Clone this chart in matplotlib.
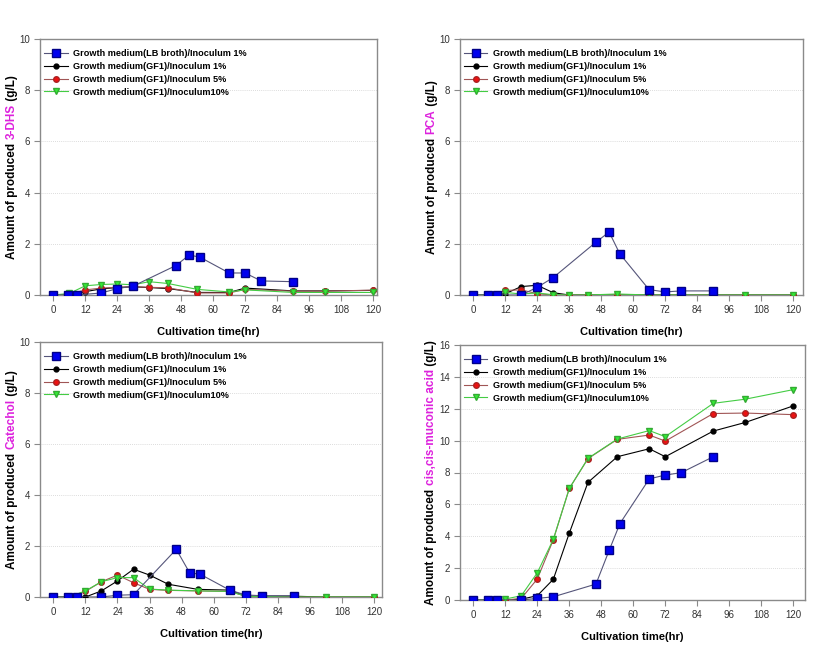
import matplotlib
matplotlib.use('Agg')
import matplotlib.pyplot as plt

plt.rcParams['font.family'] = ['Liberation Sans', 'DejaVu Sans']

# sampling times (hr)
t_lb = [0, 5.5, 9, 18, 24, 30, 46, 51, 55, 66, 72, 78, 90]
t_gf = [0, 6, 12, 18, 24, 30, 36, 43, 54, 66, 72, 90, 102, 120]

series_names = ['Growth medium(LB broth)/Inoculum 1%',
                'Growth medium(GF1)/Inoculum 1%',
                'Growth medium(GF1)/Inoculum 5%',
                'Growth medium(GF1)/Inoculum10%']

# 3-DHS
dhs_lb = [0, 0, 0, 0.08, 0.25, 0.35, 1.15, 1.56, 1.48, 0.86, 0.86, 0.55, 0.52]
dhs_gf1 = [0, 0.02, 0.13, 0.24, 0.29, 0.32, 0.29, 0.25, 0.1, 0.1, 0.27, 0.16, 0.16, 0.18]
dhs_gf5 = [0, 0.02, 0.2, 0.27, 0.3, 0.33, 0.3, 0.28, 0.08, 0.08, 0.22, 0.15, 0.15, 0.19]
dhs_gf10 = [0, 0.06, 0.36, 0.41, 0.43, 0.4, 0.52, 0.45, 0.22, 0.12, 0.2, 0.1, 0.1, 0.1]

# PCA
pca_lb = [0, 0, 0, 0, 0.3, 0.68, 2.06, 2.46, 1.61, 0.21, 0.12, 0.16, 0.16]
pca_gf1 = [0, 0, 0.05, 0.33, 0.38, 0.09, 0, 0, 0, 0, 0, 0, 0, 0]
pca_gf5 = [0, 0, 0.18, 0.2, 0.05, 0, 0, 0, 0, 0, 0, 0, 0, 0]
pca_gf10 = [0, 0, 0.1, 0.04, 0.08, 0.01, 0, 0, 0.04, 0, 0, 0, 0, 0]

# Catechol
cat_lb = [0, 0, 0, 0, 0.07, 0.09, 1.87, 0.95, 0.89, 0.27, 0.08, 0.05, 0.05]
cat_gf1 = [0, 0, 0, 0.24, 0.63, 1.09, 0.86, 0.5, 0.3, 0.27, 0.03, 0.03, 0, 0]
cat_gf5 = [0, 0, 0.22, 0.6, 0.86, 0.56, 0.3, 0.26, 0.24, 0.22, 0.03, 0, 0, 0]
cat_gf10 = [0, 0, 0.24, 0.6, 0.76, 0.76, 0.31, 0.27, 0.24, 0.22, 0.03, 0, 0, 0]

# cis,cis-muconic acid
mua_lb = [0, 0, 0, 0, 0.1, 0.2, 1.0, 3.14, 4.8, 7.6, 7.84, 7.99, 8.99]
mua_gf1 = [0, 0, 0, 0.05, 0.27, 1.3, 4.2, 7.38, 8.99, 9.49, 8.99, 10.6, 11.14, 12.18]
mua_gf5 = [0, 0, 0, 0.1, 1.32, 3.78, 7.0, 8.87, 10.08, 10.35, 9.97, 11.7, 11.73, 11.63]
mua_gf10 = [0, 0, 0.06, 0.27, 1.71, 3.81, 7.0, 8.89, 10.1, 10.63, 10.25, 12.34, 12.6, 13.2]

W, H = 827, 645
fig = plt.figure(figsize=(W / 100, H / 100), dpi=100)


def px_axes(left, top, right, bottom):
    return fig.add_axes([left / W, (H - bottom) / H, (right - left) / W, (bottom - top) / H])


styles = [
    dict(color='#55557a', marker='s', mfc='#0000ee', mec='#000088', ms=6, zorder=5),
    dict(color='black', marker='o', mfc='black', mec='black', ms=3.5, zorder=3),
    dict(color='#a05555', marker='o', mfc='#ee1111', mec='#aa2222', ms=4, zorder=3),
    dict(color='#44cc44', marker='v', mfc='#33ee33', mec='#33aa33', ms=4.5, zorder=4),
]


def draw_panel(ax, data, compound, ymax, xright):
    times = [t_lb, t_gf, t_gf, t_gf]
    for t, y, name, st in zip(times, data, series_names, styles):
        ax.plot(t, y, lw=0.8, label=name, **st)
    ax.set_xlim(-5, xright)
    ax.set_ylim(0, ymax)
    ax.set_xticks(range(0, 121, 12))
    ax.set_yticks(range(0, ymax + 1, 2))
    for s in ax.spines.values():
        s.set_color('#8a8a8a')
        s.set_linewidth(1.0)
    ax.tick_params(direction='out', length=4, width=0.8, colors='#8a8a8a',
                   labelcolor='#333333', labelsize=7, pad=3)
    for yv in range(2, ymax, 2):
        ax.axhline(yv, color='#d0d0d0', lw=0.6, ls=(0, (1, 1.5)), zorder=0)
    ax.legend(loc='upper left', frameon=False,
              prop={'weight': 'bold', 'size': 6.6}, handlelength=2.6,
              handletextpad=0.55, labelspacing=0.42,
              borderaxespad=0.0, bbox_to_anchor=(0.0, 0.975))
    ax.text(0.5, -0.145, 'Cultivation time(hr)', transform=ax.transAxes,
            ha='center', va='center', fontsize=8, fontweight='bold')

    # y label with the compound name in magenta
    r = fig.canvas.get_renderer()
    parts = [('Amount of produced ', 'black'), (compound, '#dd22dd'), (' (g/L)', 'black')]
    texts = [ax.text(-0.083, 0, s, color=c, rotation=90, transform=ax.transAxes,
                     ha='center', va='bottom', fontsize=8.5, fontweight='bold')
             for s, c in parts]
    bb = ax.get_window_extent(r)
    hs = [t.get_window_extent(r).height / bb.height for t in texts]
    y = 0.5 - sum(hs) / 2
    for t, h in zip(texts, hs):
        t.set_position((-0.083, y))
        y += h


ax1 = px_axes(40, 39, 377, 295)
draw_panel(ax1, [dhs_lb, dhs_gf1, dhs_gf5, dhs_gf10], '3-DHS', 10, 121.5)

ax2 = px_axes(460, 39, 803, 295)
draw_panel(ax2, [pca_lb, pca_gf1, pca_gf5, pca_gf10], 'PCA', 10, 123.8)

ax3 = px_axes(40, 342, 382, 597)
draw_panel(ax3, [cat_lb, cat_gf1, cat_gf5, cat_gf10], 'Catechol', 10, 123)

ax4 = px_axes(460, 345, 805, 600)
draw_panel(ax4, [mua_lb, mua_gf1, mua_gf5, mua_gf10], 'cis,cis-muconic acid', 16, 124.4)

fig.savefig('out.png', dpi=100)
